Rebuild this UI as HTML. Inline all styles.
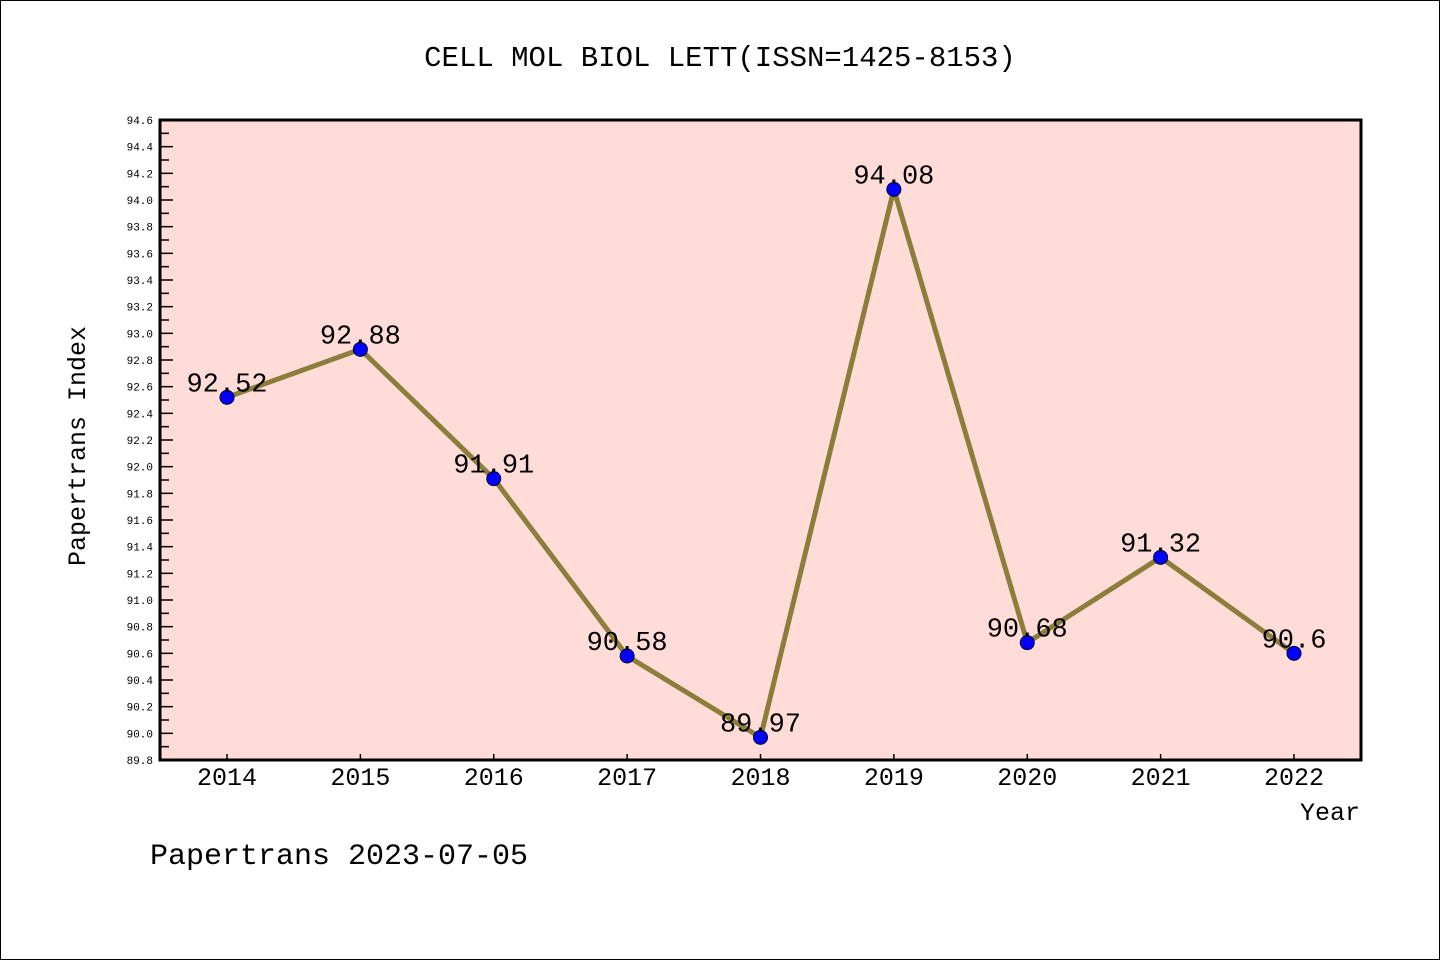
<!DOCTYPE html>
<html><head><meta charset="utf-8"><style>
html,body{margin:0;padding:0;background:#fff}
svg{display:block}
text{font-family:"Liberation Mono","WenQuanYi Zen Hei",monospace}
</style></head><body>
<svg id="chart" width="1440" height="960" xmlns="http://www.w3.org/2000/svg">
<rect x="0.5" y="0.5" width="1439" height="959" fill="#fff" stroke="#000"/>
<text x="720" y="66" font-size="29" text-anchor="middle">CELL MOL BIOL LETT(ISSN=1425-8153)</text>
<rect x="160" y="120" width="1201" height="640" fill="#ffdcd8"/>
<g id="yaxis"></g>
<g id="xaxis"></g>
<g id="series"></g>
<rect x="160" y="120" width="1201" height="640" fill="none" stroke="#000" stroke-width="3"/>
<text transform="translate(85,446) rotate(-90)" font-size="25" text-anchor="middle">Papertrans Index</text>
<text x="1360" y="820" font-size="25" text-anchor="end">Year</text>
<text x="150" y="864" font-size="30">Papertrans 2023-07-05</text>
</svg>
<script>
const years = ["2014","2015","2016","2017","2018","2019","2020","2021","2022"];
const values = [92.52,92.88,91.91,90.58,89.97,94.08,90.68,91.32,90.6];
const valueLabels = ["92.52","92.88","91.91","90.58","89.97","94.08","90.68","91.32","90.6"];
const yMin = 89.8, yMax = 94.6;
const NS="http://www.w3.org/2000/svg";
const L=160,R=1361,T=120,B=760;
const x0=227,x1=1294;
function xs(i){return x0+(x1-x0)*i/(years.length-1);}
function ys(v){return B-(v-yMin)/(yMax-yMin)*(B-T);}
function mk(tag,attrs,parent){const e=document.createElementNS(NS,tag);for(const k in attrs)e.setAttribute(k,attrs[k]);parent.appendChild(e);return e;}
const ya=document.getElementById('yaxis'),xa=document.getElementById('xaxis'),sg=document.getElementById('series');
const nMinor=Math.round((yMax-yMin)/0.1);
for(let k=0;k<=nMinor;k++){
  const v=yMin+k*0.1, y=ys(v), major=k%2===0;
  const t=mk('line',{x1:L,x2:L+(major?13:9),y1:y,y2:y,stroke:'#000','stroke-width':1.5},ya);
  
  
  if(major){
    const lb=mk('text',{x:153,y:y+4,'font-size':11,'text-anchor':'end'},ya);
    
    
    lb.textContent=v.toFixed(1);
  }
}
years.forEach((yr,i)=>{
  const x=xs(i);
  const t=mk('line',{x1:x,x2:x,y1:B,y2:B-6,stroke:'#000','stroke-width':1.5},xa);
  
  
  const lb=mk('text',{x:x,y:785,'font-size':25,'text-anchor':'middle'},xa);
  
  
  lb.textContent=yr;
});
const pl=mk('polyline',{points:values.map((v,i)=>xs(i)+','+ys(v)).join(' '),fill:'none',stroke:'#8b7d3a','stroke-width':5,'stroke-linejoin':'round'},sg);


values.forEach((v,i)=>{
  const c=mk('circle',{cx:xs(i),cy:ys(v),r:7,fill:'#0000ff',stroke:'#000033','stroke-width':1},sg);
  
  
  const lb=mk('text',{x:xs(i),y:ys(v)-6,'font-size':27,'text-anchor':'middle'},sg);
  
  
  lb.textContent=valueLabels[i];
});
</script>
</body></html>
